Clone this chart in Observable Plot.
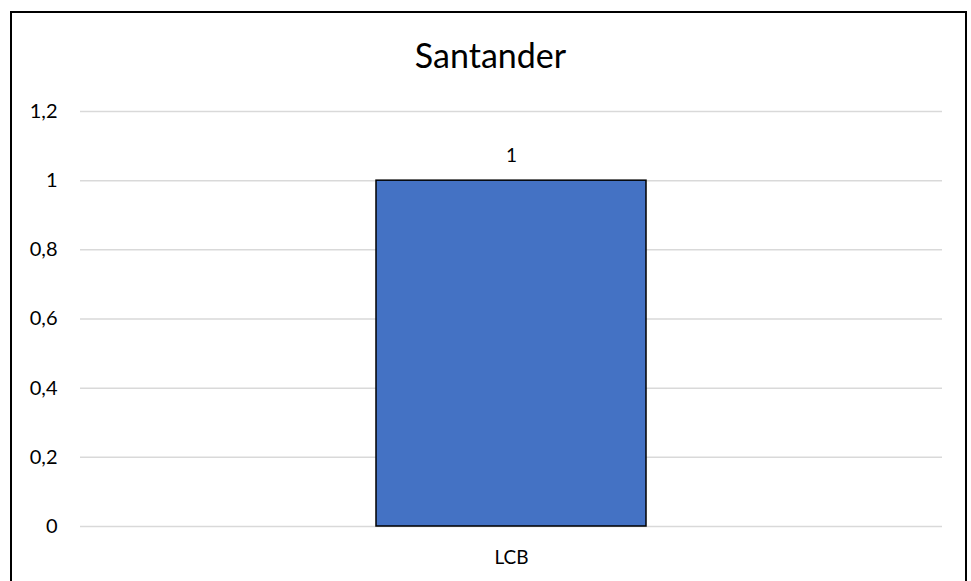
<!DOCTYPE html>
<html>
<head>
<meta charset="utf-8">
<script src="https://cdn.jsdelivr.net/npm/d3@7"></script>
<script src="https://cdn.jsdelivr.net/npm/@observablehq/plot@0.6"></script>
<style>
  html, body { margin: 0; padding: 0; background: #fff; }
  #wrap { position: relative; width: 971px; height: 581px; overflow: hidden; font-family: Lato, "Open Sans", sans-serif; }
  #frame { position: absolute; left: 10px; top: 11px; width: 957px; height: 600px; border: 2px solid #000; box-sizing: border-box; pointer-events: none; }
  #chart { position: absolute; left: 0; top: 0; }
</style>
</head>
<body>
<div id="wrap"><div id="chart"></div><div id="frame"></div></div>
<script>
const title = "Santander";
const categories = ["LCB"];
const values = [1];
const yTicks = [0, 0.2, 0.4, 0.6, 0.8, 1, 1.2];

const data = categories.map((c, i) => ({category: c, value: values[i]}));
const fmt = d => String(+d.toFixed(1)).replace(".", ",");

const chart = Plot.plot({
  width: 971,
  height: 581,
  marginTop: 111,
  marginBottom: 55,
  marginLeft: 80,
  marginRight: 29,
  style: {fontFamily: "Lato, 'Open Sans', sans-serif", fontSize: "19px", color: "#000", background: "transparent"},
  x: {domain: categories, padding: 0.523, label: null},
  y: {domain: [0, 1.2], label: null},
  marks: [
    Plot.gridY(yTicks, {stroke: "#d9d9d9", strokeOpacity: 1, strokeWidth: 1.5}),
    Plot.barY(data, {x: "category", y: "value", fill: "#4472c4", stroke: "#000", strokeWidth: 1.5}),
    Plot.text(data, {x: "category", y: "value", text: d => fmt(d.value), dy: -25, fontSize: 19, fill: "#000"}),
    Plot.axisY({ticks: yTicks, tickSize: 0, tickPadding: 23, tickFormat: fmt, fontSize: 20, fill: "#000"}),
    Plot.axisX({tickSize: 0, tickPadding: 24, fontSize: 19, fill: "#000"}),
    Plot.text([title], {frameAnchor: "top", dx: -21, dy: -68, text: d => d, fontSize: 34, fill: "#000"})
  ]
});
document.getElementById("chart").appendChild(chart);
</script>
</body>
</html>
